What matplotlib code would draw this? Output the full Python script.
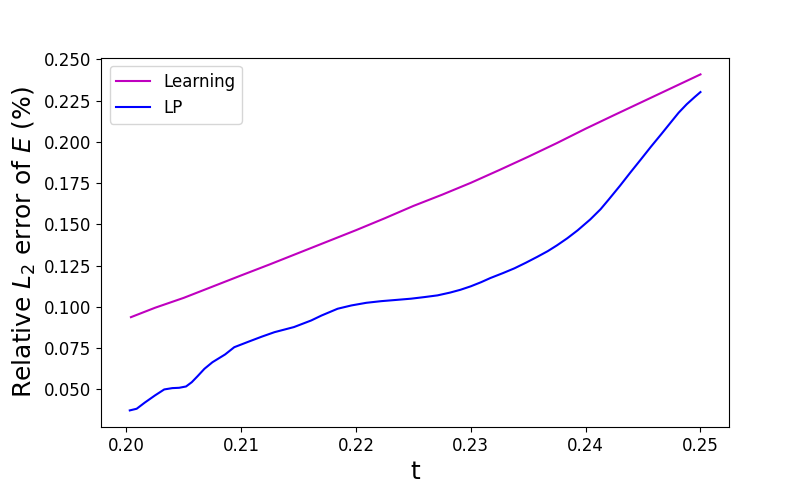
import matplotlib
matplotlib.use("Agg")
import matplotlib.pyplot as plt

t_learning = [0.2004, 0.2025, 0.205, 0.2075, 0.21, 0.2125, 0.215, 0.2175, 0.22,
              0.2225, 0.225, 0.2275, 0.23, 0.2325, 0.235, 0.2375, 0.24, 0.2425,
              0.245, 0.2475, 0.25]
err_learning = [0.0938, 0.0995, 0.1055, 0.1123, 0.1191, 0.1258, 0.1327, 0.1396, 0.1465,
                0.1537, 0.1612, 0.1680, 0.1752, 0.1830, 0.1910, 0.1993, 0.2080, 0.2163,
                0.2245, 0.2327, 0.2409]

t_lp = [0.2003, 0.2009, 0.2016, 0.2025, 0.2033, 0.2040, 0.2046, 0.2052, 0.2057,
        0.2062, 0.2068, 0.2075, 0.2086, 0.2094, 0.2107, 0.2118, 0.2129, 0.2146,
        0.2161, 0.2170, 0.2184, 0.2196, 0.2209, 0.2222, 0.2236, 0.2248, 0.2260,
        0.2271, 0.2282, 0.2291, 0.2300, 0.2309, 0.2317, 0.2328, 0.2338, 0.2348,
        0.2358, 0.2367, 0.2375, 0.2384, 0.2393, 0.2404, 0.2413, 0.2420, 0.2430,
        0.2439, 0.2448, 0.2457, 0.2466, 0.2474, 0.2481, 0.2488, 0.2495, 0.2500]
err_lp = [0.0373, 0.0383, 0.0420, 0.0464, 0.0500, 0.0508, 0.0510, 0.0518, 0.0544,
          0.0580, 0.0625, 0.0665, 0.0712, 0.0756, 0.0791, 0.0820, 0.0847, 0.0878,
          0.0918, 0.0948, 0.0989, 0.1009, 0.1025, 0.1035, 0.1043, 0.1050, 0.1060,
          0.1070, 0.1087, 0.1104, 0.1125, 0.1150, 0.1175, 0.1205, 0.1234, 0.1268,
          0.1304, 0.1338, 0.1373, 0.1416, 0.1464, 0.1530, 0.1592, 0.1650, 0.1735,
          0.1815, 0.1893, 0.1972, 0.2048, 0.2117, 0.2177, 0.2228, 0.2272, 0.2302]

fig, ax = plt.subplots(figsize=(8.1, 4.8), dpi=100)
ax.plot(t_learning, err_learning, color='m', label='Learning')
ax.plot(t_lp, err_lp, color='b', label='LP')
ax.set_xlabel('t', fontsize=18)
ax.set_ylabel('Relative $L_2$ error of $E$ (%)', fontsize=18)
ax.tick_params(labelsize=12)
ax.legend(fontsize=12, loc='upper left')
fig.savefig('out.png', dpi=100)
